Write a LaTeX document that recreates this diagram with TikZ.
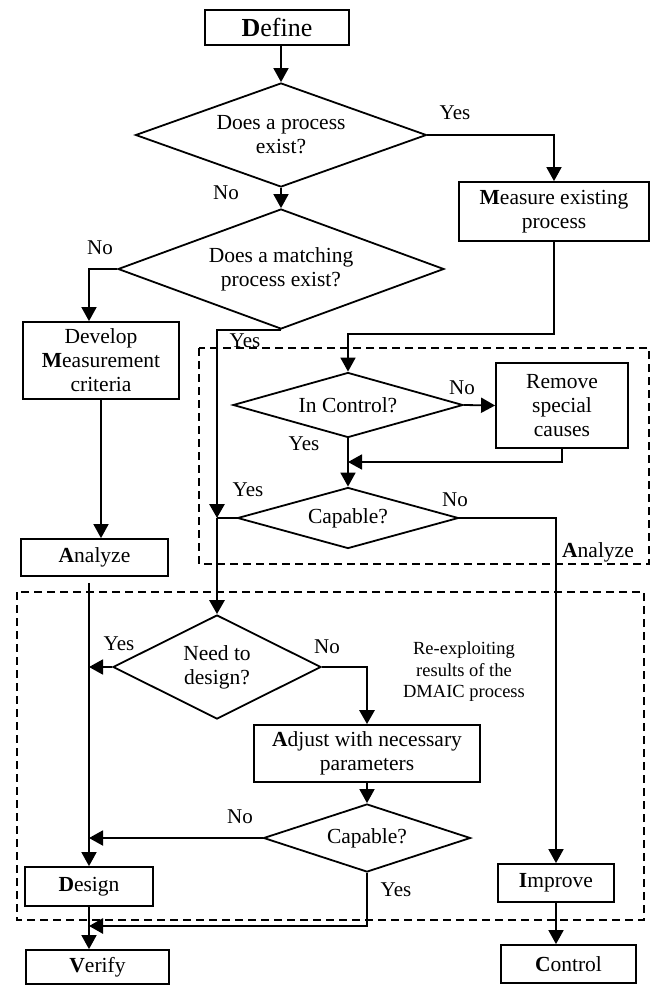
\documentclass[tikz,border=0pt]{standalone}
\usepackage{fontspec}
\setmainfont{Liberation Serif}
\usetikzlibrary{shapes.geometric,arrows.meta,calc}
\begin{document}
\begin{tikzpicture}[x=1pt,y=-1pt,
  font=\fontsize{21.5}{24}\selectfont,
  box/.style={draw, line width=1.8pt, rectangle, inner sep=0pt, align=center},
  dia/.style={draw, line width=1.8pt, diamond, inner sep=0pt, align=center},
  lbl/.style={inner sep=0pt, font=\fontsize{21}{23}\selectfont},
  arr/.style={line width=1.8pt, -{Triangle[length=14pt,width=15pt]}},
  ln/.style={line width=1.8pt},
  thk/.style={line width=2.8pt},
  dsh/.style={line width=1.5pt, dash pattern=on 8pt off 5pt}]
\useasboundingbox (0,0) rectangle (652,986);

% dashed groups
\draw[dsh] (199,348) rectangle (649,564);
\draw[dsh] (17,592) rectangle (644,920);

% nodes
\node[box, minimum width=144pt, minimum height=35pt] (define) at (277,27.5) {\fontsize{26}{28}\selectfont\textbf{D}efine};
\node[dia, minimum width=291pt, minimum height=104pt, aspect=2.8] (d1) at (281,135) {Does a process\\exist?};
\node[box, minimum width=190pt, minimum height=59pt] (measure) at (554,211.5) {\textbf{M}easure existing\\process};
\node[dia, minimum width=326pt, minimum height=120pt, aspect=2.72] (d2) at (281,269) {Does a matching\\process exist?};
\node[box, minimum width=156pt, minimum height=77pt] (develop) at (101,360.5) {Develop\\\textbf{M}easurement\\criteria};
\node[box, minimum width=147pt, minimum height=37pt] (analyzeL) at (94.5,557.5) {\textbf{A}nalyze};
\node[dia, minimum width=230pt, minimum height=65pt, aspect=3.5] (incontrol) at (348,405) {In Control?};
\node[box, minimum width=132pt, minimum height=85pt] (remove) at (562,405.5) {Remove\\special\\causes};
\node[dia, minimum width=221pt, minimum height=61pt, aspect=3.6] (cap1) at (348,518) {Capable?};
\node[dia, minimum width=208pt, minimum height=104pt, aspect=2] (need) at (217,667) {Need to\\design?};
\node[box, minimum width=226pt, minimum height=57pt] (adjust) at (367,753.5) {\textbf{A}djust with necessary\\parameters};
\node[dia, minimum width=207pt, minimum height=68pt, aspect=3] (cap2) at (367,838) {Capable?};
\node[box, minimum width=128pt, minimum height=39pt] (design) at (89,886.5) {\textbf{D}esign};
\node[box, minimum width=143pt, minimum height=34pt] (verify) at (97.5,967) {\textbf{V}erify};
\node[box, minimum width=116pt, minimum height=38pt] (improve) at (556,883) {\textbf{I}mprove};
\node[box, minimum width=135pt, minimum height=38pt] (control) at (568.5,964) {\textbf{C}ontrol};

% free texts
\node[inner sep=0pt] (analyzeR) at (598,552) {\textbf{A}nalyze};
\node[inner sep=0pt, align=center, font=\fontsize{18.5}{21.5}\selectfont] (reexp) at (464,672) {Re-exploiting\\results of the\\DMAIC process};

% labels
\node[lbl] (y1) at (455,113) {Yes};
\node[lbl] (n1) at (226,193) {No};
\node[lbl] (n2) at (100,248) {No};
\node[lbl] (y2) at (245,341) {Yes};
\node[lbl] (y3) at (304,444) {Yes};
\node[lbl] (y4) at (248,490) {Yes};
\node[lbl] (n3) at (462,388) {No};
\node[lbl] (n4) at (455,500) {No};
\node[lbl] (y5) at (119,644) {Yes};
\node[lbl] (n5) at (327,647) {No};
\node[lbl] (n6) at (240,817) {No};
\node[lbl] (y6) at (396,890) {Yes};

% junctions
\coordinate (j1) at (217,518);
\coordinate (j2) at (348,462);
\coordinate (j3) at (89,926);

% connectors
\draw[arr] (d1.north |- define.south) -- (d1.north);
\draw[arr] (d1.east) -| (measure.north);
\draw[arr] (d1.south) -- (d2.north);
\draw[arr] (d2.west) -| ([xshift=-12pt]develop.north);
\draw[arr,thk] (d2.south) -| (j1);
\draw[ln] (cap1.west) -- (j1);
\draw[arr,thk] (j1) -- (need.north);
\draw[arr] (measure.south) -- ++(0,92) -| (incontrol.north);
\draw[arr] (incontrol.east) -- (remove.west);
\draw[arr] (remove.south) |- (j2);
\draw[arr] (incontrol.south) -- (cap1.north);
\draw[arr] (cap1.east) -| (improve.north);
\draw[arr] (improve.south) -- (improve.south |- control.north);
\draw[arr] (develop.south) -- (develop.south |- analyzeL.north);
\draw[arr] ($(analyzeL.south -| design.north)+(0,6)$) -- (design.north);
\draw[arr] (need.west) -- (need.west -| design.north);
\draw[arr,thk] (need.east) -| (adjust.north);
\draw[arr] (adjust.south) -- (cap2.north);
\draw[arr] (cap2.west) -- (cap2.west -| design.north);
\draw[arr] (design.south) -- (design.south |- verify.north);
\draw[arr,thk] (cap2.south) |- (j3);
\end{tikzpicture}
\end{document}
